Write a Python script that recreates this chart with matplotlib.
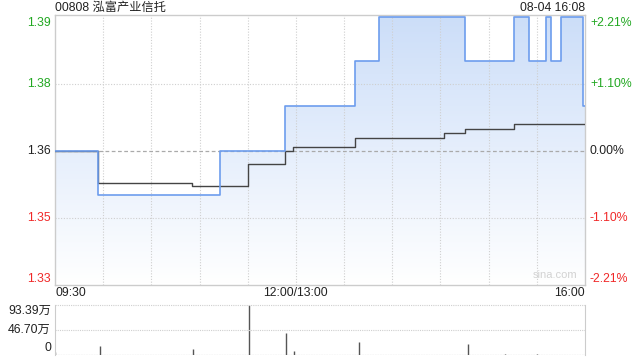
import matplotlib
matplotlib.use("Agg")
import matplotlib.pyplot as plt
import matplotlib.transforms as mtransforms
import numpy as np

plt.rcParams['font.family'] = ['Liberation Sans', 'Noto Sans CJK SC', 'DejaVu Sans']

# minutes since 09:30 (lunch break removed: 12:00 == 13:00 == 150)
price_t = [0, 27, 103, 143, 187, 202, 255, 286, 295, 306, 309, 315, 329, 330]
price = [1.36, 1.35, 1.36, 1.37, 1.38, 1.39, 1.38, 1.39, 1.38, 1.39, 1.38, 1.39, 1.37, 1.37]

avg_t = [0, 27, 85, 120, 143, 148, 187, 242, 255, 286, 330]
avg = [1.36, 1.3528, 1.3520, 1.3569, 1.3599, 1.3608, 1.3629, 1.3640, 1.3649, 1.3659, 1.3659]

vol_t = [0, 28, 86, 121, 144, 149, 189, 257, 280, 300]
vol = [5.5, 16.8, 10.6, 93.39, 40.5, 7.5, 24.8, 20.5, 2.0, 2.0]  # 万

prev_close = 1.36
price_ticks = [1.33, 1.345, 1.36, 1.375, 1.39]
price_labels = ['1.33', '1.35', '1.36', '1.38', '1.39']
pct_labels = ['-2.21%', '-1.10%', '0.00%', '+1.10%', '+2.21%']
vol_ticks = [0, 46.70, 93.39]
vol_labels = ['0', '46.70万', '93.39万']
time_ticks = [0, 150, 330]
time_labels = ['09:30', '12:00/13:00', '16:00']

green = '#22a822'
red = '#f02828'
grid_c = '#cfcfcf'
spine_c = '#cccccc'
blue = '#6d9ded'

fig = plt.figure(figsize=(6.4, 3.6), dpi=100)
ax = fig.add_axes([55 / 640, 1 - 284.5 / 360, 530 / 640, 270 / 360])
axv = fig.add_axes([55 / 640, 1 - 355 / 360, 530 / 640, 50 / 360])

ax.set_xlim(0, 330)
ax.set_ylim(1.33, 1.3905)

# gradient fill under the price line
poly = ax.fill_between(price_t, price, 1.33, step='post', color='none', lw=0)
grad = np.linspace(0, 1, 256).reshape(-1, 1)
top_c = np.array([0.80, 0.87, 0.975])
bot_c = np.array([1.0, 1.0, 1.0])
img = top_c * (1 - grad[..., None]) + bot_c * grad[..., None]
im = ax.imshow(img, extent=[0, 330, 1.33, 1.39], aspect='auto', origin='upper', zorder=1)
path = poly.get_paths()[0]
im.set_clip_path(path, transform=ax.transData)

# grid
for x in range(30, 330, 30):
    ax.axvline(x, color=grid_c, lw=0.8, ls=(0, (1, 1.5)), zorder=2)
for y in [1.345, 1.375]:
    ax.axhline(y, color=grid_c, lw=0.8, ls=(0, (1, 1.5)), zorder=2)
ax.axhline(prev_close, color='#aaaaaa', lw=0.9, ls=(0, (3, 2)), zorder=2)

ax.plot(price_t, price, drawstyle='steps-post', color=blue, lw=1.2, zorder=4)
ax.plot(avg_t, avg, drawstyle='steps-post', color='#444444', lw=1.0, zorder=3)

for s in ax.spines.values():
    s.set_color(spine_c)
    s.set_linewidth(1)
ax.set_xticks([])
ax.set_yticks([])

trans_l = mtransforms.blended_transform_factory(fig.transFigure, ax.transData)
fs = 8.8
for i, (v, lab, pl) in enumerate(zip(price_ticks, price_labels, pct_labels)):
    c = red if v < prev_close else (green if v > prev_close else '#222222')
    va = 'bottom' if i == 0 else ('top' if i == len(price_ticks) - 1 else 'center')
    ax.text(51 / 640, v, lab, transform=trans_l, ha='right', va=va, color=c, fontsize=fs)
    ax.text(590 / 640, v, pl, transform=trans_l, ha='left', va=va, color=c, fontsize=fs)

trans_x = mtransforms.blended_transform_factory(ax.transData, fig.transFigure)
for t, lab, ha in zip(time_ticks, time_labels, ['left', 'center', 'right']):
    ax.text(t, 1 - 293 / 360, lab, transform=trans_x, ha=ha, va='center', color='#222222', fontsize=fs)

fig.text(55 / 640, 1 - 8 / 360, '00808 泓富产业信托', ha='left', va='center', fontsize=fs, color='#222222')
fig.text(585 / 640, 1 - 8 / 360, '08-04 16:08', ha='right', va='center', fontsize=fs, color='#222222')
ax.text(0.985, 0.015, 'sina.com', transform=ax.transAxes, ha='right', va='bottom',
        fontsize=8, color='#d2d2d2', zorder=5)

# volume panel
axv.set_xlim(0, 330)
axv.set_ylim(0, 93.39)
axv.vlines(vol_t, 0, vol, color='#555555', lw=1.0)
axv.axhline(46.70, color=grid_c, lw=0.8, ls=(0, (1, 1)))
axv.axhline(93.39, color=grid_c, lw=0.8, ls=(0, (1, 1)), clip_on=False)
axv.axhline(0.6, color='#888888', lw=0.8, ls=(0, (1.5, 0.8)))
axv.spines['top'].set_visible(False)
axv.spines['bottom'].set_visible(False)
for k in ['left', 'right']:
    axv.spines[k].set_color(spine_c)
axv.set_xticks([])
axv.set_yticks([])
trans_v = mtransforms.blended_transform_factory(fig.transFigure, axv.transData)
for v, lab, va in zip(vol_ticks, vol_labels, ['bottom', 'center', 'top']):
    yy = v + (2 if va == 'bottom' else 0)
    axv.text(51 / 640, yy, lab, transform=trans_v, ha='right', va=va,
             color='#222222', fontsize=fs)

fig.savefig('out.png', dpi=100)
